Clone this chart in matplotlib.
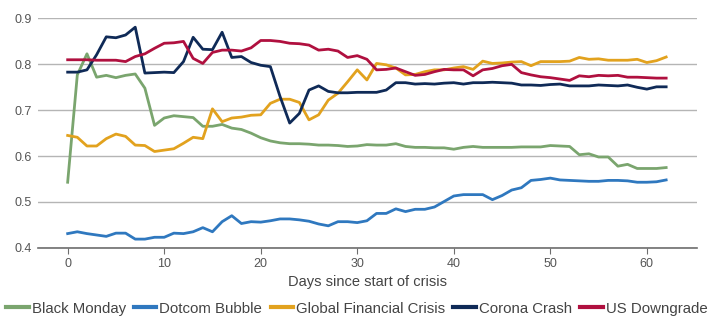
import numpy as np
import matplotlib.pyplot as plt

days = np.arange(63)

black_monday = [
    0.543, 0.777, 0.823, 0.772, 0.776, 0.771, 0.776, 0.779, 0.748, 0.667,
    0.683, 0.688, 0.686, 0.684, 0.665, 0.665, 0.669, 0.661, 0.658, 0.650,
    0.640, 0.633, 0.629, 0.627, 0.627, 0.626, 0.624, 0.624, 0.623, 0.621,
    0.622, 0.625, 0.624, 0.624, 0.627, 0.621, 0.619, 0.619, 0.618, 0.618,
    0.615, 0.619, 0.621, 0.619, 0.619, 0.619, 0.619, 0.620, 0.620, 0.620,
    0.623, 0.622, 0.621, 0.603, 0.605, 0.598, 0.598, 0.578, 0.582, 0.573,
    0.573, 0.573, 0.575,
]
dotcom_bubble = [
    0.431, 0.435, 0.431, 0.428, 0.425, 0.432, 0.432, 0.419, 0.419, 0.423,
    0.423, 0.432, 0.431, 0.435, 0.444, 0.435, 0.457, 0.470, 0.453, 0.457,
    0.456, 0.459, 0.463, 0.463, 0.461, 0.458, 0.452, 0.448, 0.457, 0.457,
    0.455, 0.459, 0.475, 0.475, 0.485, 0.479, 0.484, 0.484, 0.489, 0.501,
    0.513, 0.516, 0.516, 0.516, 0.505, 0.514, 0.526, 0.531, 0.547, 0.549,
    0.552, 0.548, 0.547, 0.546, 0.545, 0.545, 0.547, 0.547, 0.546, 0.543,
    0.543, 0.544, 0.548,
]
global_financial_crisis = [
    0.645, 0.641, 0.622, 0.622, 0.638, 0.648, 0.643, 0.624, 0.623, 0.610,
    0.613, 0.616, 0.628, 0.641, 0.638, 0.703, 0.675, 0.683, 0.685, 0.689,
    0.690, 0.715, 0.724, 0.724, 0.717, 0.679, 0.690, 0.722, 0.737, 0.762,
    0.788, 0.766, 0.802, 0.799, 0.792, 0.777, 0.778, 0.784, 0.788, 0.788,
    0.792, 0.795, 0.789, 0.807, 0.802, 0.803, 0.805, 0.806, 0.797, 0.806,
    0.806, 0.806, 0.807, 0.815, 0.811, 0.812, 0.809, 0.809, 0.809, 0.811,
    0.804, 0.808, 0.816,
]
corona_crash = [
    0.783, 0.783, 0.788, 0.821, 0.860, 0.858, 0.864, 0.881, 0.781, 0.782,
    0.783, 0.782, 0.806, 0.859, 0.833, 0.832, 0.870, 0.815, 0.817, 0.804,
    0.798, 0.795, 0.730, 0.672, 0.693, 0.744, 0.753, 0.741, 0.738, 0.738,
    0.739, 0.739, 0.739, 0.744, 0.760, 0.760, 0.757, 0.758, 0.757, 0.759,
    0.760, 0.757, 0.760, 0.760, 0.761, 0.760, 0.759, 0.755, 0.755, 0.754,
    0.756, 0.757, 0.753, 0.753, 0.753, 0.755, 0.754, 0.753, 0.755, 0.750,
    0.746, 0.751, 0.751,
]
us_downgrade = [
    0.810, 0.810, 0.810, 0.809, 0.809, 0.809, 0.806, 0.817, 0.823, 0.835,
    0.846, 0.847, 0.850, 0.813, 0.802, 0.826, 0.831, 0.831, 0.829, 0.836,
    0.852, 0.852, 0.850, 0.846, 0.845, 0.842, 0.831, 0.833, 0.829, 0.815,
    0.819, 0.811, 0.788, 0.789, 0.792, 0.784, 0.776, 0.778, 0.784, 0.789,
    0.788, 0.788, 0.775, 0.788, 0.791, 0.797, 0.800, 0.782, 0.777, 0.773,
    0.771, 0.768, 0.765, 0.775, 0.773, 0.776, 0.775, 0.776, 0.772, 0.772,
    0.771, 0.770, 0.770,
]

series = [
    ("Black Monday", black_monday, "#7aa56e"),
    ("Dotcom Bubble", dotcom_bubble, "#2f78bf"),
    ("Global Financial Crisis", global_financial_crisis, "#e2a21e"),
    ("Corona Crash", corona_crash, "#0f2a57"),
    ("US Downgrade", us_downgrade, "#b0103f"),
]

plt.rcParams['font.family'] = ['Liberation Sans', 'DejaVu Sans']

fig = plt.figure(figsize=(7.12, 3.30), dpi=100)
ax = fig.add_axes([0.053, 0.249, 0.926, 0.695])

for name, vals, color in series:
    ax.plot(days, vals, color=color, lw=2.0, label=name)

ax.set_xlim(-3.1, 65.2)
ax.set_ylim(0.4, 0.9)
ax.set_xticks(range(0, 61, 10))
ax.set_yticks([0.4, 0.5, 0.6, 0.7, 0.8, 0.9])
ax.set_yticklabels(["0.4", "0.5", "0.6", "0.7", "0.8", "0.9"])
ax.grid(axis='y', color='#b5b5b5', lw=1.0)
ax.set_axisbelow(True)

for side in ['top', 'right', 'left']:
    ax.spines[side].set_visible(False)
ax.spines['bottom'].set_color('#6e6e6e')
ax.spines['bottom'].set_linewidth(1.2)
ax.tick_params(axis='y', length=0, pad=4, labelsize=9, labelcolor='#555555')
ax.tick_params(axis='x', length=4, color='#6e6e6e', pad=3,
               labelsize=9, labelcolor='#555555')

ax.set_xlabel("Days since start of crisis", fontsize=10.5, color='#444444',
              labelpad=4)

# legend sits in one tight row under the axis label
leg = ax.legend(loc='center', bbox_to_anchor=(0.484, -0.265), ncol=5,
                frameon=False, fontsize=10.8, handlelength=1.5,
                handletextpad=0.2, columnspacing=0.55, borderaxespad=0,
                labelcolor='#444444')
for line in leg.get_lines():
    line.set_linewidth(3.0)

fig.savefig("out.png", dpi=100)
